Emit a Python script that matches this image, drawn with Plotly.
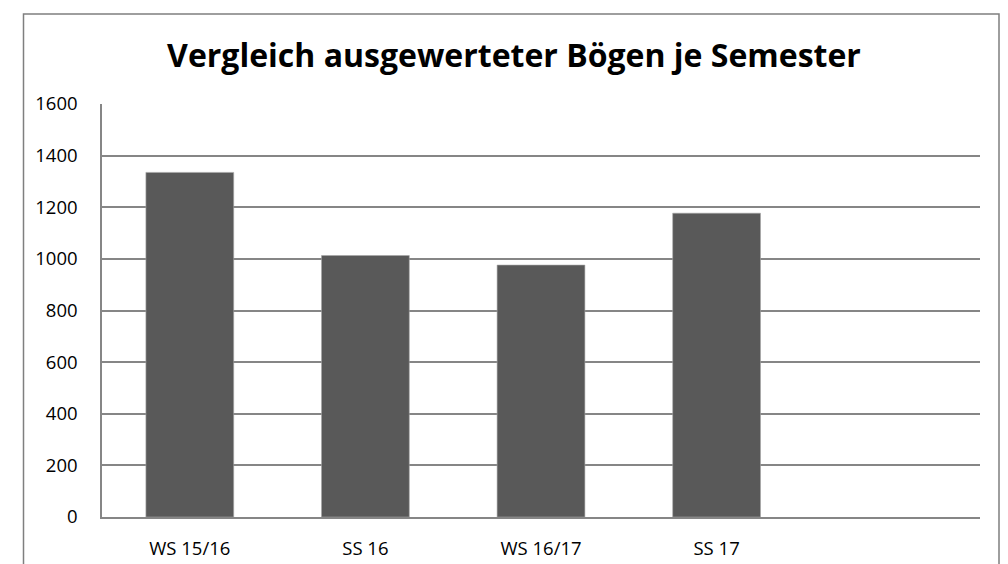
import plotly.graph_objects as go

categories = ["WS 15/16", "SS 16", "WS 16/17", "SS 17", ""]
values = [1335, 1013, 976, 1177, None]
y_ticks = [0, 200, 400, 600, 800, 1000, 1200, 1400, 1600]
title = "Vergleich ausgewerteter Bögen je Semester"

W, H = 1008, 564
OFF = 8  # page body margin
L, R, T, B = 102 - OFF, 980 - OFF, 104 - OFF, 519 - OFF
pw, ph = R - L, B - T

def px_x(x):
    return (x - OFF - L) / pw

def px_y(y):
    return (B - (y - OFF)) / ph

font = "'Open Sans', sans-serif"

fig = go.Figure(go.Bar(
    x=list(range(len(categories))),
    y=values,
    marker=dict(color="#595959", line=dict(color="#a6a6a6", width=0.6)),
    width=0.5,
))

fig.update_layout(
    width=W, height=H,
    margin=dict(l=L, r=W - R, t=T, b=H - B, pad=0),
    paper_bgcolor="white", plot_bgcolor="white",
    showlegend=False,
    title=dict(text="<b>" + title + "</b>", x=(514 - OFF) / W, xanchor="center",
               y=1 - (56 - OFF) / H, yanchor="middle",
               font=dict(family=font, size=32, color="black")),
    font=dict(family=font, color="black"),
    shapes=[dict(type="rect", xref="paper", yref="paper",
                 x0=px_x(23.5), x1=px_x(999), y0=px_y(620), y1=px_y(13.5),
                 line=dict(color="#7f7f7f", width=1.5), layer="below")],
)

fig.update_xaxes(
    range=[-0.5, len(categories) - 0.5],
    tickmode="array", tickvals=list(range(len(categories))), ticktext=categories,
    showgrid=False, showline=True, linecolor="#868686", linewidth=1.5,
    ticks="", tickfont=dict(size=18.5, family=font), ticklabelstandoff=14,
    zeroline=False,
)
fig.update_yaxes(
    range=[0, 1600], tickmode="array", tickvals=y_ticks,
    showgrid=True, gridcolor="#868686", gridwidth=1.5,
    showline=True, linecolor="#868686", linewidth=1.5,
    ticks="", tickfont=dict(size=18.5, family=font), ticklabelstandoff=19,
    zeroline=False,
)

fig.write_html("out.html")
